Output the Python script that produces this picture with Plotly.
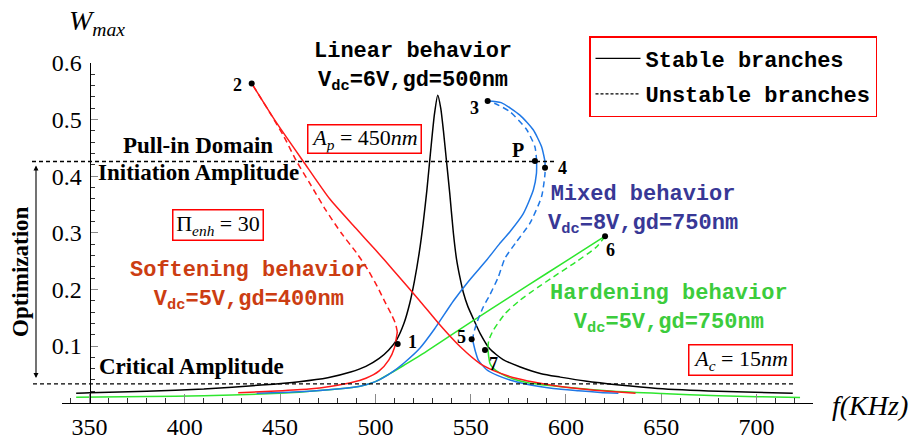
import plotly.graph_objects as go

FIG_W, FIG_H = 911, 443

# ---- Linear behaviour (Vdc=6V, gd=500nm) : single resonance peak, all stable
lin_f = [343, 350, 380, 410, 440, 460, 475, 487, 495, 502, 507, 511, 515, 518, 520.5, 523, 525, 527, 529,
         531, 532.7, 534.3, 535.7, 537.2, 539, 540.9, 542.5, 544.3, 546.1, 548.5, 551.4, 555, 560, 567,
         576, 587, 597, 610, 628, 648, 680, 719]
lin_w = [0.0165, 0.0175, 0.020, 0.024, 0.031, 0.037, 0.044, 0.054, 0.064, 0.078, 0.093, 0.11, 0.14, 0.175,
         0.215, 0.265, 0.315, 0.375, 0.445, 0.51, 0.543, 0.52, 0.48, 0.43, 0.37, 0.30, 0.255, 0.222, 0.195,
         0.17, 0.148, 0.122, 0.095, 0.076, 0.063, 0.051, 0.045, 0.038, 0.031, 0.025, 0.020, 0.0164]

# ---- Softening behaviour (Vdc=5V, gd=400nm)
soft_low_f = [428, 448, 465, 477, 487, 495, 502, 507, 510, 511.5]
soft_low_w = [0.0175, 0.0205, 0.024, 0.029, 0.035, 0.043, 0.056, 0.075, 0.097, 0.125]
soft_uns_f = [511.5, 510.5, 508.5, 505, 501, 496, 490, 482, 474, 466, 458.7, 452, 445, 435.1]
soft_uns_w = [0.125, 0.14, 0.155, 0.178, 0.205, 0.235, 0.265, 0.30, 0.34, 0.385, 0.426, 0.47, 0.51, 0.564]
soft_up_f = [435.1, 448, 462.2, 476, 490, 500, 509.4, 523, 533.9, 544.4, 554.9, 565.4, 575, 586.4, 600,
             615, 636.5]
soft_up_w = [0.564, 0.495, 0.426, 0.36, 0.307, 0.27, 0.234, 0.181, 0.137, 0.099, 0.069, 0.052, 0.042,
             0.034, 0.027, 0.022, 0.0165]

# ---- Mixed behaviour (Vdc=8V, gd=750nm)
mix_low_f = [437.7, 460, 480, 492, 500, 508, 515, 523.3, 531, 541, 549, 558.4, 565, 570.6, 577.6, 582.9,
             584.5, 584.6]
mix_low_w = [0.0164, 0.019, 0.024, 0.029, 0.037, 0.052, 0.07, 0.096, 0.13, 0.18, 0.215, 0.252, 0.28, 0.302,
             0.334, 0.376, 0.405, 0.427]
mix_uns1_f = [584.6, 583.7, 579.4, 570.6, 563, 558.9]
mix_uns1_w = [0.427, 0.452, 0.482, 0.514, 0.528, 0.533]
mix_up_f = [558.9, 566, 575.8, 582.8, 587.2, 589]
mix_up_w = [0.533, 0.53, 0.508, 0.482, 0.452, 0.426]
mix_uns2_f = [589, 589, 587.2, 581.1, 574, 568, 564.5, 560, 556.6, 553.1, 551.4, 551.2]
mix_uns2_w = [0.426, 0.405, 0.364, 0.317, 0.284, 0.255, 0.222, 0.19, 0.169, 0.14, 0.12, 0.108]
mix_hi_f = [551.2, 552.5, 554, 558.4, 564, 570.6, 580, 593.3, 606.6, 618, 627.5]
mix_hi_w = [0.108, 0.09, 0.075, 0.058, 0.048, 0.04, 0.032, 0.025, 0.021, 0.018, 0.0164]

# ---- Hardening behaviour (Vdc=5V, gd=750nm)
hard_low_f = [343, 380, 410, 440, 460, 480, 492, 500, 508, 515, 523.3, 540.9, 560, 580, 600, 620.5]
hard_low_w = [0.0094, 0.0108, 0.012, 0.015, 0.0185, 0.024, 0.029, 0.037, 0.052, 0.066, 0.083, 0.122,
              0.164, 0.207, 0.25, 0.294]
hard_uns_f = [620.5, 616, 605, 593.3, 585, 575.9, 568, 561.9, 559.5, 559]
hard_uns_w = [0.294, 0.275, 0.248, 0.222, 0.203, 0.181, 0.157, 0.128, 0.11, 0.095]
hard_hi_f = [559, 559.5, 560.1, 562, 565.4, 572, 580, 600, 625, 650, 680, 700, 722.8]
hard_hi_w = [0.095, 0.08, 0.069, 0.06, 0.052, 0.042, 0.035, 0.027, 0.02, 0.016, 0.012, 0.0105, 0.009]

# ---- Bifurcation / pull-in points
pt_names = ["1", "2", "3", "P", "4", "5", "6", "7"]
pt_f = [511.7, 435.1, 558.9, 583.7, 589.0, 550.5, 620.5, 557.5]
pt_w = [0.1035, 0.564, 0.533, 0.427, 0.415, 0.112, 0.294, 0.093]
pt_dx = [15, -14, -13, -17, 17, -10, 5, 9]     # label offsets in px (right +)
pt_dy = [-2, 2, 7, -11, 0, -2, 14, 14]         # label offsets in px (down +)

# ---- Reference amplitudes
pull_in_w = 0.426
critical_w = 0.033

# ---- Axis ticks
x_ticks = [350, 400, 450, 500, 550, 600, 650, 700]
y_ticks = [0.1, 0.2, 0.3, 0.4, 0.5, 0.6]

BLACK = "#000000"
RED = "#ff1a1a"
BLUE = "#1f78e6"
GREEN = "#2ee62e"
SOFT_TXT = "#cc3d12"
MIX_TXT = "#383896"
HARD_TXT = "#3ccc3c"

SOLID = "solid"
DASHED = "6px,4px"

fig = go.Figure()


def curve(f, w, color, dash, width=1.5):
    fig.add_trace(go.Scatter(x=f, y=w, mode="lines", showlegend=False, hoverinfo="skip",
                             line=dict(color=color, width=width, dash=dash, shape="spline",
                                       smoothing=0.6)))


curve(lin_f, lin_w, BLACK, SOLID)
curve(hard_low_f, hard_low_w, GREEN, SOLID)
curve(hard_uns_f, hard_uns_w, GREEN, DASHED)
curve(hard_hi_f, hard_hi_w, GREEN, SOLID)
curve(mix_low_f, mix_low_w, BLUE, SOLID)
curve(mix_uns1_f, mix_uns1_w, BLUE, DASHED)
curve(mix_up_f, mix_up_w, BLUE, SOLID)
curve(mix_uns2_f, mix_uns2_w, BLUE, DASHED)
curve(mix_hi_f, mix_hi_w, BLUE, SOLID)
curve(soft_low_f, soft_low_w, RED, SOLID)
curve(soft_uns_f, soft_uns_w, RED, DASHED)
curve(soft_up_f, soft_up_w, RED, SOLID)

# bifurcation points
fig.add_trace(go.Scatter(x=pt_f, y=pt_w, mode="markers", showlegend=False, hoverinfo="skip",
                         marker=dict(color="black", size=6)))

# legend entries
fig.add_trace(go.Scatter(x=[None], y=[None], mode="lines", name="<b>Stable branches</b>",
                         legendgroup="a", line=dict(color="black", width=1.3)))
fig.add_trace(go.Scatter(x=[None], y=[None], mode="lines", name="<b>Unstable branches</b>",
                         legendgroup="b", line=dict(color="black", width=1.3, dash="3px,2px")))

# pull-in and critical amplitude levels
fig.add_shape(type="line", xref="paper", yref="y", x0=32 / FIG_W, x1=557 / FIG_W,
              y0=pull_in_w, y1=pull_in_w, line=dict(color="black", width=1.4, dash="4px,3px"))
fig.add_shape(type="line", xref="paper", yref="y", x0=33 / FIG_W, x1=795 / FIG_W,
              y0=critical_w, y1=critical_w, line=dict(color="black", width=1.4, dash="4px,3px"))

SERIF = "Liberation Serif"
MONO = "Liberation Mono"


def px_annot(text, x, y, size, family=SERIF, color="black", xanchor="center", yanchor="middle", **kw):
    fig.add_annotation(text=text, xref="paper", yref="paper", x=x / FIG_W, y=1 - y / FIG_H,
                       xanchor=xanchor, yanchor=yanchor, showarrow=False,
                       font=dict(family=family, size=size, color=color), **kw)


# axis titles
px_annot("<i>W<sub>max</sub></i>", 67, 22, 28, xanchor="left")
px_annot("<i>f(KHz)</i>", 870, 405, 28)

# region labels
px_annot("<b>Pull-in Domain</b>", 198, 145, 23)
px_annot("<b>Initiation Amplitude</b>", 198, 172, 23)
px_annot("<b>Critical Amplitude</b>", 191, 366, 23)
px_annot("<b>Optimization</b>", 20, 272, 23, textangle=-90)

# behaviour labels
px_annot("<b>Linear behavior<br>V<sub>dc</sub>=6V,gd=500nm</b>", 413, 67, 22, family=MONO)
px_annot("<b>Softening behavior<br>V<sub>dc</sub>=5V,gd=400nm</b>", 249, 286, 22, family=MONO,
         color=SOFT_TXT)
px_annot("<b>Mixed behavior<br>V<sub>dc</sub>=8V,gd=750nm</b>", 643, 210, 22, family=MONO,
         color=MIX_TXT)
px_annot("<b>Hardening behavior<br>V<sub>dc</sub>=5V,gd=750nm</b>", 669, 309, 22, family=MONO,
         color=HARD_TXT)

# boxed parameters
box = dict(bordercolor="#ff0000", borderwidth=1.5, borderpad=0, bgcolor="white")
px_annot("<i>A<sub>p</sub></i> = 450<i>nm</i>", 364, 138.5, 22, width=112, height=27, **box)
px_annot("\u03a0<sub><i>enh</i></sub> = 30", 217.5, 224.5, 22, width=89, height=29, **box)
px_annot("<i>A<sub>c</sub></i> = 15<i>nm</i>", 740, 359.5, 22, width=102, height=29, **box)

# optimisation arrow
fig.add_annotation(xref="paper", yref="paper", x=36 / FIG_W, y=1 - 378 / FIG_H, ax=0, ay=-214,
                   showarrow=True, arrowside="end+start", arrowhead=2, startarrowhead=2,
                   arrowsize=0.9, startarrowsize=0.9, arrowwidth=1.1, arrowcolor="black", text="")

# point labels
for name, f, w, dx, dy in zip(pt_names, pt_f, pt_w, pt_dx, pt_dy):
    fig.add_annotation(x=f, y=w, xref="x", yref="y", text=f"<b>{name}</b>", showarrow=False,
                       xanchor="center", yanchor="middle", xshift=dx, yshift=-dy,
                       font=dict(family=SERIF, size=20 if name == "P" else 18, color="black"))

tickfont = dict(family=SERIF, size=24, color="black")
fig.update_layout(
    width=FIG_W, height=FIG_H,
    margin=dict(l=0, r=0, t=0, b=0, autoexpand=False),
    paper_bgcolor="white", plot_bgcolor="rgba(0,0,0,0)",
    xaxis=dict(domain=[62 / FIG_W, 813 / FIG_W], range=[335.57, 729.6], anchor="y",
               automargin=False,
               showline=True, linecolor="black", linewidth=1, showgrid=False, zeroline=False,
               tickmode="array", tickvals=x_ticks, ticktext=[str(v) for v in x_ticks],
               ticks="inside", ticklen=9, tickwidth=1, tickcolor="#8a8a8a",
               minor=dict(dtick=10, tick0=0, ticks="inside", ticklen=5, tickwidth=1, tickcolor="#333"),
               tickfont=tickfont, ticklabelstandoff=3),
    yaxis=dict(domain=[40.4 / FIG_H, 380 / FIG_H], range=[0, 0.6], anchor="free",
               position=89.5 / FIG_W, automargin=False,
               showline=True, linecolor="black", linewidth=1, showgrid=False, zeroline=False,
               tickmode="array", tickvals=y_ticks, ticktext=[f"{v:.1f}" for v in y_ticks],
               ticks="inside", ticklen=7, tickwidth=1, tickcolor="#8a8a8a",
               minor=dict(dtick=0.02, tick0=0, ticks="inside", ticklen=4, tickwidth=1,
                          tickcolor="#333"),
               tickfont=tickfont, ticklabelstandoff=3),
    legend=dict(x=589 / FIG_W, y=1 - 36 / FIG_H, xanchor="left", yanchor="top",
                bordercolor="#ff0000", borderwidth=1.5, bgcolor="white",
                font=dict(family=MONO, size=22, color="black"),
                tracegroupgap=4, itemwidth=45),
    showlegend=True,
)

fig.write_html("out.html", config={"displayModeBar": False})
